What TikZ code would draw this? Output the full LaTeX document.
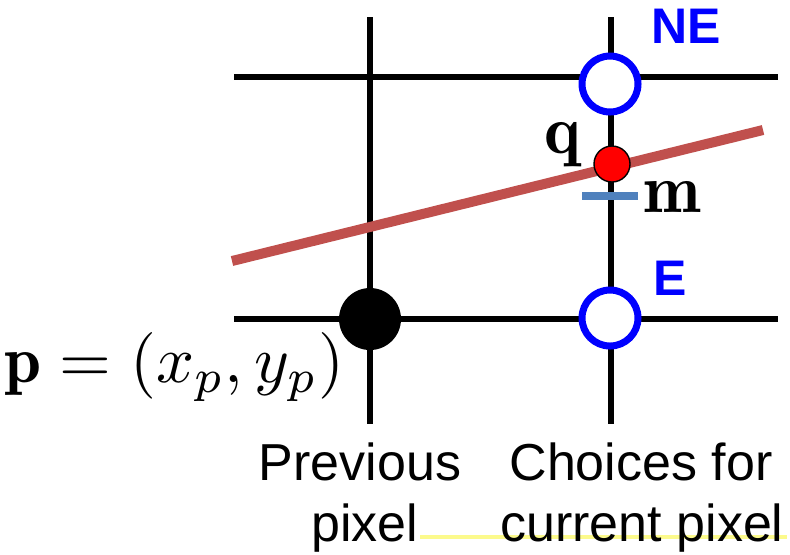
\documentclass[tikz,border=0pt]{standalone}
\usepackage{amsmath}
\usepackage{graphicx}
\usepackage{fontspec}
\setsansfont{Liberation Sans}
\definecolor{redline}{RGB}{192,80,77}
\definecolor{tickblue}{RGB}{79,129,189}
\definecolor{choiceblue}{RGB}{0,0,255}
\definecolor{hl}{RGB}{252,250,140}
\newcommand{\bigmath}[2][3.25]{\scalebox{#1}{$#2$}}
\tikzset{
  gridline/.style={line width=2.6pt, black},
  choice/.style={circle, draw=choiceblue, line width=3.5pt, fill=white, minimum size=28pt, inner sep=0pt},
  prevdot/.style={circle, fill=black, minimum size=31pt, inner sep=0pt},
  qdot/.style={circle, fill=red, draw=black, line width=0.7pt, minimum size=18pt, inner sep=0pt},
  sanslabel/.style={font=\sffamily\fontsize{26}{31}\selectfont, inner sep=0pt, anchor=base},
  dirlabel/.style={font=\sffamily\bfseries\fontsize{25}{30}\selectfont, text=choiceblue, inner sep=0pt, anchor=base},
  mathlabel/.style={inner sep=0pt, anchor=base},
}
\begin{document}
\begin{tikzpicture}[x=0.5pt, y=-0.5pt]
\useasboundingbox (0,0) rectangle (790,554);
% faint highlight
\coordinate (yl) at (420,537); \coordinate (yr) at (787,537);
\draw[hl, line width=2pt] (yl) -- (yr);
% grid
\coordinate (v1t) at (370,17);  \coordinate (v1b) at (370,424);
\coordinate (v2t) at (611,17);  \coordinate (v2b) at (611,424);
\coordinate (h1l) at (234,77);  \coordinate (h1r) at (778,77);
\coordinate (h2l) at (234,319); \coordinate (h2r) at (778,319);
\draw[gridline] (v1t) -- (v1b);
\draw[gridline] (v2t) -- (v2b);
\draw[gridline] (h1l) -- (h1r);
\draw[gridline] (h2l) -- (h2r);
% line
\coordinate (rl) at (232,261); \coordinate (rr) at (763,130);
\draw[redline, line width=5pt] (rl) -- (rr);
% midpoint tick
\coordinate (mtl) at (582,196); \coordinate (mtr) at (638,196);
\draw[tickblue, line width=3.8pt] (mtl) -- (mtr);
% points
\node[prevdot] (P) at (370,319) {};
\node[choice] (NEc) at (610,84) {};
\node[choice] (Ec) at (610,318) {};
\node[qdot] (Q) at (612,164) {};
% labels
\node[dirlabel] (NE) at (686,43) {NE};
\node[dirlabel] (E) at (670,295) {E};
\node[mathlabel] (ql) at (563,153) {\bigmath[3.45]{\mathbf{q}}};
\node[mathlabel] (ml) at (672,212) {\bigmath[3.45]{\mathbf{m}}};
\node[mathlabel, anchor=base west] (pl) at (4,382) {\bigmath[3.33]{\mathbf{p} = (x_p, y_p)}};
\node[sanslabel] (prev1) at (360,480) {Previous};
\node[sanslabel] (prev2) at (365,541) {pixel};
\node[sanslabel] (cur1) at (641,480) {Choices for};
\node[sanslabel] (cur2) at (642,541) {current pixel};
\end{tikzpicture}
\end{document}
